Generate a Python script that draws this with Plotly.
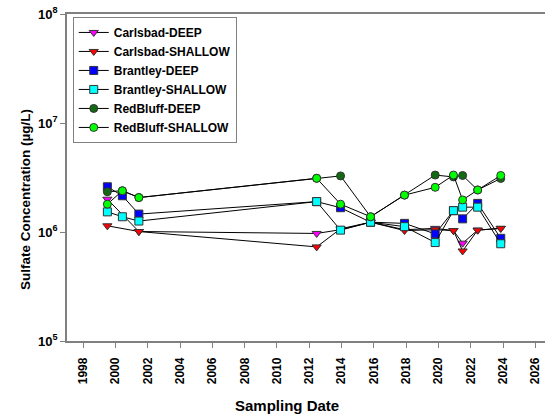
import plotly.graph_objects as go

# Sampling dates (decimal years) and sulfate concentrations (µg/L) per well group
dates_carlsbad = [1999.5, 2001.45, 2012.46, 2013.94, 2015.8, 2017.9, 2019.8, 2020.93, 2021.5, 2022.43, 2023.86]
carlsbad_deep = [2.0e6, 1.01e6, 9.7e5, 1.05e6, 1.23e6, 1.05e6, 1.08e6, 1.03e6, 7.9e5, 1.04e6, 1.08e6]
carlsbad_shallow = [1.14e6, 1.01e6, 7.3e5, 1.07e6, 1.23e6, 1.03e6, 1.05e6, 1.03e6, 6.7e5, 1.04e6, 1.08e6]

dates_other = [1999.5, 2000.43, 2001.45, 2012.46, 2013.94, 2015.8, 2017.9, 2019.8, 2020.93, 2021.5, 2022.43, 2023.86]
brantley_deep = [2.6e6, 2.15e6, 1.46e6, 1.9e6, 1.67e6, 1.23e6, 1.2e6, 9.6e5, 1.57e6, 1.32e6, 1.83e6, 8.75e5]
brantley_shallow = [1.53e6, 1.38e6, 1.26e6, 1.9e6, 1.04e6, 1.23e6, 1.12e6, 8.0e5, 1.57e6, 1.69e6, 1.69e6, 7.8e5]
redbluff_deep = [2.34e6, 2.39e6, 2.07e6, 3.11e6, 3.27e6, 1.38e6, 2.18e6, 3.33e6, 3.2e6, 3.3e6, 2.43e6, 3.1e6]
redbluff_shallow = [1.8e6, 2.39e6, 2.07e6, 3.11e6, 1.80e6, 1.38e6, 2.18e6, 2.57e6, 3.33e6, 1.97e6, 2.43e6, 3.3e6]

y_tickvals = [1e5, 1e6, 1e7, 1e8]
y_ticktext = ["10<sup>5</sup>", "10<sup>6</sup>", "10<sup>7</sup>", "10<sup>8</sup>"]

FONT = "Arial, Liberation Sans, sans-serif"

series = [
    ("Carlsbad-DEEP", dates_carlsbad, carlsbad_deep, "triangle-down", "#ff00ff"),
    ("Carlsbad-SHALLOW", dates_carlsbad, carlsbad_shallow, "triangle-down", "#ff0000"),
    ("Brantley-DEEP", dates_other, brantley_deep, "square", "#0000ff"),
    ("Brantley-SHALLOW", dates_other, brantley_shallow, "square", "#00ffff"),
    ("RedBluff-DEEP", dates_other, redbluff_deep, "circle", "#126b12"),
    ("RedBluff-SHALLOW", dates_other, redbluff_shallow, "circle", "#00ff00"),
]

fig = go.Figure()
for name, x, y, sym, col in series:
    fig.add_trace(go.Scatter(
        x=x, y=y, name=name, mode="lines+markers",
        line=dict(color="#000000", width=1),
        marker=dict(symbol=sym, size=8, color=col,
                    line=dict(color="#333333", width=1)),
    ))

fig.update_layout(
    width=545, height=419,
    margin=dict(l=67, r=0, t=14, b=78),
    plot_bgcolor="white", paper_bgcolor="white",
    font=dict(family=FONT, color="black"),
    legend=dict(
        x=0.012, y=0.991, xanchor="left", yanchor="top",
        bordercolor="#808080", borderwidth=1, bgcolor="white",
        font=dict(family=FONT, size=12, weight="bold"),
        tracegroupgap=0, itemwidth=30,
    ),
    annotations=[
        dict(text="Sampling Date", xref="paper", yref="paper",
             x=(287 - 67) / 478, y=-(405 - 341) / 327,
             xanchor="center", yanchor="middle", showarrow=False,
             font=dict(family=FONT, size=15, weight="bold")),
        dict(text="Sulfate Concentration (µg/L)", xref="paper", yref="paper",
             x=-(67 - 25) / 478, y=1 - (200 - 14) / 327, textangle=-90,
             xanchor="center", yanchor="middle", showarrow=False,
             font=dict(family=FONT, size=13.5, weight="bold")),
    ],
)

fig.update_xaxes(
    range=[1997.0, 2026.6], tick0=1998, dtick=2,
    ticks="outside", ticklen=5, tickcolor="#808080",
    tickangle=-90, tickfont=dict(family=FONT, size=12, weight="bold"),
    ticklabelstandoff=5,
    showline=True, linecolor="#808080", linewidth=1.5, mirror=True,
    showgrid=False, zeroline=False,
)

fig.update_yaxes(
    type="log", range=[5, 8],
    tickvals=y_tickvals, ticktext=y_ticktext,
    ticks="outside", ticklen=5, tickcolor="#808080",
    tickfont=dict(family=FONT, size=13, weight="bold"),
    showline=True, linecolor="#808080", linewidth=1.5,
    showgrid=False, zeroline=False,
)

fig.write_html("out.html")
